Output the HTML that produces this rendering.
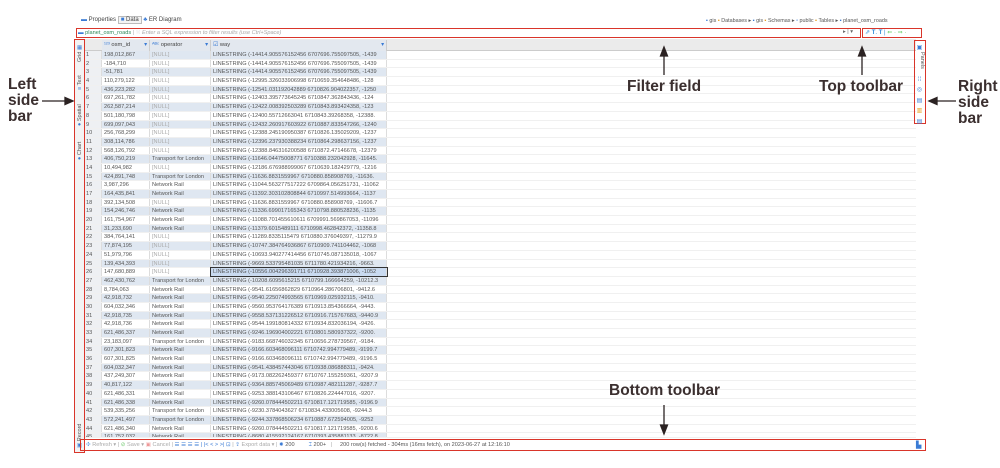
<!DOCTYPE html>
<html><head><meta charset="utf-8"><style>
*{margin:0;padding:0;box-sizing:border-box}
body{width:1000px;height:468px;background:#fff;position:relative;overflow:hidden;font-family:"Liberation Sans",sans-serif}
.a{position:absolute}
.lbl{position:absolute;font:bold 15.5px/16px "Liberation Sans",sans-serif;color:#3b2f2f}
.red{position:absolute;border:1.3px solid #d9352a}
#tbl{position:absolute;left:84px;top:51px;width:832px}
.r{height:8.7px;display:flex;font-size:5.6px;line-height:8.7px;color:#555;border-bottom:0.5px solid #f0f0f0}
.r:nth-child(odd) .c1,.r:nth-child(odd) .c2,.r:nth-child(odd) .c3{background:#dfe7f1}
.r div{white-space:nowrap;overflow:hidden;border-right:0.5px solid #ddd;padding-left:2px}
.c0{width:18px;background:#eef0f3}
.c1{width:48px}.c2{width:61px}.c3{width:176px}
.n{color:#aaa}
.vt{position:absolute;transform:rotate(-90deg);transform-origin:left top;font-size:5.5px;color:#555;white-space:nowrap}
</style></head><body>
<div class="a" style="left:81px;top:16px;font-size:6px;color:#444;line-height:9px">
<span style="color:#3a7bd5">▬</span> Properties <span style="border:0.5px solid #bbb;padding:0 2px;background:#f4f4f4"><span style="color:#3a7bd5">■</span> Data</span> <span style="color:#3a7bd5">♣</span> ER Diagram</div>
<div class="a" style="left:706px;top:17px;font-size:5.4px;color:#555;line-height:8px;white-space:nowrap"><span style="color:#3a7bd5">▪</span> gis <span style="color:#e8a020">▪</span> Databases ▸ <span style="color:#3a7bd5">▪</span> gis <span style="color:#e8a020">▪</span> Schemas ▸ <span style="color:#3a7bd5">▫</span> public <span style="color:#e8a020">▪</span> Tables ▸ <span style="color:#3a7bd5">▪</span> planet_osm_roads</div>
<div class="red" style="left:76px;top:28px;width:785px;height:10px"></div>
<div class="a" style="left:78px;top:29px;font-size:5.6px;line-height:8px;white-space:nowrap"><span style="color:#3a7bd5">▬</span><span style="color:#2f8a5a"> planet_osm_roads</span> <span style="color:#aaa">| ⁙ <i>Enter a SQL expression to filter results (use Ctrl+Space)</i></span></div>
<div class="a" style="left:843px;top:29px;font-size:5.5px;color:#666">▸ | ▾</div>
<div class="red" style="left:862px;top:28px;width:60px;height:10px"></div>
<div class="a" style="left:865px;top:29px;font-size:6px;color:#2a8ad8;white-space:nowrap">⇗ <b>T</b>. <b>T</b> | <span style="color:#6c6">⇐ · ⇒ ·</span></div>
<div class="a" style="left:84px;top:39px;width:832px;height:12px;background:#ebebeb;border-bottom:0.5px solid #ccc"></div>
<div class="a" style="left:102px;top:40px;width:285px;height:11px;display:flex;font-size:5.8px;line-height:10px;color:#444">
<div style="width:48px;background:#e3e8ef;border-right:.5px solid #ccc;padding-left:2px"><span style="color:#3a7bd5">¹²³</span> osm_id <span style="float:right;color:#3a7bd5;padding-right:2px">▾</span></div>
<div style="width:61px;background:#e3e8ef;border-right:.5px solid #ccc;padding-left:2px"><span style="color:#3a7bd5">ᴬᴮᶜ</span> operator <span style="float:right;color:#3a7bd5;padding-right:2px">▾</span></div>
<div style="width:176px;background:#e3e8ef;border-right:.5px solid #ccc;padding-left:2px"><span style="color:#3a7bd5">☑</span> way <span style="float:right;color:#3a7bd5;padding-right:2px">▾</span></div></div>
<div id="tbl">
<div class="r"><div class="c0">1</div><div class="c1">198,012,867</div><div class="c2 n">[NULL]</div><div class="c3">LINESTRING (-14414.905576152456 6707696.755097505, -1439</div></div>
<div class="r"><div class="c0">2</div><div class="c1">-184,710</div><div class="c2 n">[NULL]</div><div class="c3">LINESTRING (-14414.905576152456 6707696.755097505, -1439</div></div>
<div class="r"><div class="c0">3</div><div class="c1">-51,781</div><div class="c2 n">[NULL]</div><div class="c3">LINESTRING (-14414.905576152456 6707696.755097505, -1439</div></div>
<div class="r"><div class="c0">4</div><div class="c1">110,279,122</div><div class="c2 n">[NULL]</div><div class="c3">LINESTRING (-12995.326033906998 6710659.354648486, -128</div></div>
<div class="r"><div class="c0">5</div><div class="c1">436,223,282</div><div class="c2 n">[NULL]</div><div class="c3">LINESTRING (-12541.031192042889 6710826.904022357, -1250</div></div>
<div class="r"><div class="c0">6</div><div class="c1">697,261,782</div><div class="c2 n">[NULL]</div><div class="c3">LINESTRING (-12403.395773645245 6710847.362843436, -124</div></div>
<div class="r"><div class="c0">7</div><div class="c1">262,587,214</div><div class="c2 n">[NULL]</div><div class="c3">LINESTRING (-12422.008392503289 6710843.893424358, -123</div></div>
<div class="r"><div class="c0">8</div><div class="c1">501,180,798</div><div class="c2 n">[NULL]</div><div class="c3">LINESTRING (-12400.55712663041 6710843.39268358, -12388.</div></div>
<div class="r"><div class="c0">9</div><div class="c1">699,097,043</div><div class="c2 n">[NULL]</div><div class="c3">LINESTRING (-12432.260917603922 6710887.833547266, -1240</div></div>
<div class="r"><div class="c0">10</div><div class="c1">256,768,299</div><div class="c2 n">[NULL]</div><div class="c3">LINESTRING (-12388.245190950387 6710826.135029209, -1237</div></div>
<div class="r"><div class="c0">11</div><div class="c1">308,114,786</div><div class="c2 n">[NULL]</div><div class="c3">LINESTRING (-12396.237930388234 6710864.298637156, -1237</div></div>
<div class="r"><div class="c0">12</div><div class="c1">568,126,792</div><div class="c2 n">[NULL]</div><div class="c3">LINESTRING (-12388.846316200588 6710872.47146678, -12379</div></div>
<div class="r"><div class="c0">13</div><div class="c1">406,750,219</div><div class="c2">Transport for London</div><div class="c3">LINESTRING (-11646.04475008771 6710388.232042928, -11645.</div></div>
<div class="r"><div class="c0">14</div><div class="c1">10,494,982</div><div class="c2 n">[NULL]</div><div class="c3">LINESTRING (-12186.676988999067 6710639.182429779, -1216</div></div>
<div class="r"><div class="c0">15</div><div class="c1">424,891,748</div><div class="c2">Transport for London</div><div class="c3">LINESTRING (-11636.8831559967 6710880.858908769, -11636.</div></div>
<div class="r"><div class="c0">16</div><div class="c1">3,987,296</div><div class="c2">Network Rail</div><div class="c3">LINESTRING (-11044.563277517222 6709864.056251731, -11062</div></div>
<div class="r"><div class="c0">17</div><div class="c1">164,435,841</div><div class="c2">Network Rail</div><div class="c3">LINESTRING (-11392.303102808844 6710997.514993664, -1137</div></div>
<div class="r"><div class="c0">18</div><div class="c1">392,134,508</div><div class="c2 n">[NULL]</div><div class="c3">LINESTRING (-11636.8831559967 6710880.858908769, -11606.7</div></div>
<div class="r"><div class="c0">19</div><div class="c1">154,246,746</div><div class="c2">Network Rail</div><div class="c3">LINESTRING (-11336.699017165343 6710798.880528236, -1135</div></div>
<div class="r"><div class="c0">20</div><div class="c1">161,754,967</div><div class="c2">Network Rail</div><div class="c3">LINESTRING (-11088.701455610611 6709991.569867053, -11096</div></div>
<div class="r"><div class="c0">21</div><div class="c1">31,233,690</div><div class="c2">Network Rail</div><div class="c3">LINESTRING (-11379.6015489111 6710998.462842372, -11358.8</div></div>
<div class="r"><div class="c0">22</div><div class="c1">384,764,141</div><div class="c2 n">[NULL]</div><div class="c3">LINESTRING (-11289.8335115479 6710880.376049397, -11279.9</div></div>
<div class="r"><div class="c0">23</div><div class="c1">77,874,195</div><div class="c2 n">[NULL]</div><div class="c3">LINESTRING (-10747.384764936867 6710909.741104462, -1068</div></div>
<div class="r"><div class="c0">24</div><div class="c1">51,979,796</div><div class="c2 n">[NULL]</div><div class="c3">LINESTRING (-10693.940277414456 6710745.087135018, -1067</div></div>
<div class="r"><div class="c0">25</div><div class="c1">139,434,393</div><div class="c2 n">[NULL]</div><div class="c3">LINESTRING (-9669.533795481035 6711780.421934216, -9663.</div></div>
<div class="r"><div class="c0">26</div><div class="c1">147,680,889</div><div class="c2 n">[NULL]</div><div class="c3" style="background:#c9daf0;outline:0.8px solid #333;outline-offset:-0.8px">LINESTRING (-10556.004296391711 6710928.393871006, -1052</div></div>
<div class="r"><div class="c0">27</div><div class="c1">462,430,762</div><div class="c2">Transport for London</div><div class="c3">LINESTRING (-10208.6095615215 6710799.166664259, -10212.3</div></div>
<div class="r"><div class="c0">28</div><div class="c1">8,784,063</div><div class="c2">Network Rail</div><div class="c3">LINESTRING (-9541.61656862829 6710964.286706801, -9412.6</div></div>
<div class="r"><div class="c0">29</div><div class="c1">42,918,732</div><div class="c2">Network Rail</div><div class="c3">LINESTRING (-9540.225074993565 6710969.025932115, -9410.</div></div>
<div class="r"><div class="c0">30</div><div class="c1">604,032,346</div><div class="c2">Network Rail</div><div class="c3">LINESTRING (-9560.953764176389 6710913.854366664, -9443.</div></div>
<div class="r"><div class="c0">31</div><div class="c1">42,918,735</div><div class="c2">Network Rail</div><div class="c3">LINESTRING (-9558.537131226512 6710916.715767683, -9440.9</div></div>
<div class="r"><div class="c0">32</div><div class="c1">42,918,736</div><div class="c2">Network Rail</div><div class="c3">LINESTRING (-9544.199180814332 6710934.832036194, -9426.</div></div>
<div class="r"><div class="c0">33</div><div class="c1">621,486,337</div><div class="c2">Network Rail</div><div class="c3">LINESTRING (-9246.196904002221 6710801.580937322, -9200.</div></div>
<div class="r"><div class="c0">34</div><div class="c1">23,183,097</div><div class="c2">Transport for London</div><div class="c3">LINESTRING (-9183.668746032345 6710656.278739567, -9184.</div></div>
<div class="r"><div class="c0">35</div><div class="c1">607,301,823</div><div class="c2">Network Rail</div><div class="c3">LINESTRING (-9166.603468096111 6710742.994779489, -9199.7</div></div>
<div class="r"><div class="c0">36</div><div class="c1">607,301,825</div><div class="c2">Network Rail</div><div class="c3">LINESTRING (-9166.603468096111 6710742.994779489, -9196.5</div></div>
<div class="r"><div class="c0">37</div><div class="c1">604,032,347</div><div class="c2">Network Rail</div><div class="c3">LINESTRING (-9541.438457443046 6710938.086888311, -9424.</div></div>
<div class="r"><div class="c0">38</div><div class="c1">437,249,307</div><div class="c2">Network Rail</div><div class="c3">LINESTRING (-9173.082262459377 6710767.155259361, -9207.9</div></div>
<div class="r"><div class="c0">39</div><div class="c1">40,817,122</div><div class="c2">Network Rail</div><div class="c3">LINESTRING (-9364.885745069489 6710987.482111287, -9287.7</div></div>
<div class="r"><div class="c0">40</div><div class="c1">621,486,331</div><div class="c2">Network Rail</div><div class="c3">LINESTRING (-9253.388143106467 6710826.224447016, -9207.</div></div>
<div class="r"><div class="c0">41</div><div class="c1">621,486,338</div><div class="c2">Network Rail</div><div class="c3">LINESTRING (-9260.078444502211 6710817.121719585, -9196.9</div></div>
<div class="r"><div class="c0">42</div><div class="c1">539,335,256</div><div class="c2">Transport for London</div><div class="c3">LINESTRING (-9230.3784043627 6710834.433005608, -9244.3</div></div>
<div class="r"><div class="c0">43</div><div class="c1">572,241,497</div><div class="c2">Transport for London</div><div class="c3">LINESTRING (-9244.337868506234 6710887.672594005, -9252</div></div>
<div class="r"><div class="c0">44</div><div class="c1">621,486,340</div><div class="c2">Network Rail</div><div class="c3">LINESTRING (-9260.078444502211 6710817.121719585, -9200.6</div></div>
<div class="r" style="height:5px;overflow:hidden"><div class="c0">45</div><div class="c1">161,752,032</div><div class="c2">Network Rail</div><div class="c3">LINESTRING (-8680.415592124167 6710393.435881133, -8722.8</div></div>
</div>
<div class="a" style="left:75px;top:40px;width:9px;height:412px;background:#f3f3f3"></div>
<div class="red" style="left:74px;top:39px;width:11px;height:414px"></div>
<div class="vt" style="left:77px;top:62px">Grid <span style="color:#3a7bd5">▦</span></div>
<div class="vt" style="left:77px;top:90px"><span style="color:#3a7bd5">≡</span> Text</div>
<div class="vt" style="left:77px;top:126px"><span style="color:#3a7bd5">●</span> Spatial</div>
<div class="vt" style="left:77px;top:160px"><span style="color:#3a7bd5">●</span> Chart</div>
<div class="vt" style="left:77px;top:448px"><span style="color:#3a7bd5">▣</span> Record</div>
<div class="red" style="left:914px;top:40px;width:12px;height:84px"></div>
<div class="a" style="left:916px;top:43px;width:7px;font-size:6px;line-height:10.5px;color:#3a7bd5;text-align:center">▣<br><br><br>⁞⁞<br>◎<br>▤<br><span style="color:#e8a020">▥</span><br>▤</div>
<div class="vt" style="transform:rotate(90deg);transform-origin:left top;left:925px;top:52px">Panels</div>
<div class="red" style="left:80px;top:439px;width:846px;height:12px"></div>
<div class="a" style="left:86px;top:441px;font-size:5.6px;line-height:8px;color:#aaa;white-space:nowrap"><span style="color:#5a9ae0">✣</span> Refresh ▾ | <span style="color:#7c7">⊘</span> Save ▾ <span style="color:#e99">▣</span> Cancel | <span style="color:#3a7bd5">☰ ☰ ☰ ☰ | |&lt; &lt; &gt; &gt;| ⊡</span> | <span style="color:#3a7bd5">⇪</span> Export data ▾ | <span style="color:#3a7bd5">✸</span> <span style="color:#555">200</span> &nbsp; &nbsp; &nbsp; &nbsp; <span style="color:#3a7bd5">⌶</span> <span style="color:#555">200+</span> &nbsp; | &nbsp; &nbsp; <span style="color:#555">200 row(s) fetched - 304ms (16ms fetch), on 2023-06-27 at 12:16:10</span></div>
<div class="a" style="left:916px;top:441px;font-size:7px;color:#3a7bd5">▙</div>
<svg class="a" style="left:0;top:0" width="1000" height="468">
<g stroke="#2b2222" stroke-width="1.3" fill="#2b2222">
<line x1="42" y1="101" x2="66" y2="101"/><polygon points="73,101 65,97.5 65,104.5"/>
<line x1="664" y1="56" x2="664" y2="75"/><polygon points="664,47 660.5,56 667.5,56"/>
<line x1="862" y1="56" x2="862" y2="75"/><polygon points="862,47 858.5,56 865.5,56"/>
<line x1="937" y1="101" x2="956" y2="101"/><polygon points="929,101 937,97.5 937,104.5"/>
<line x1="664" y1="405" x2="664" y2="426"/><polygon points="664,434 660.5,425 667.5,425"/>
</g></svg>
<div class="lbl" style="left:8px;top:77px">Left<br>side<br>bar</div>
<div class="lbl" style="left:627px;top:79px">Filter field</div>
<div class="lbl" style="left:819px;top:79px">Top toolbar</div>
<div class="lbl" style="left:958px;top:79px">Right<br>side<br>bar</div>
<div class="lbl" style="left:609px;top:383px">Bottom toolbar</div>
</body></html>
